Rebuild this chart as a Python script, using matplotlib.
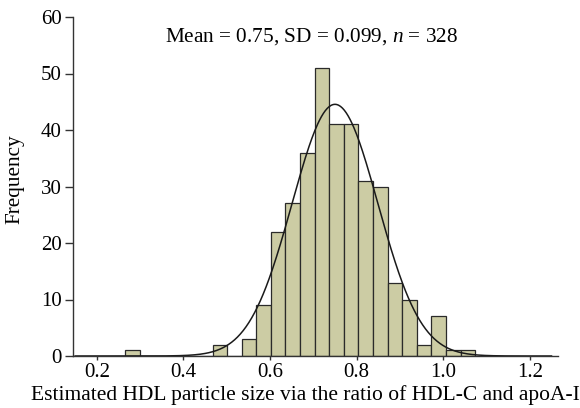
import numpy as np
import matplotlib
matplotlib.use("Agg")
import matplotlib.pyplot as plt

plt.rcParams['font.family'] = ['Liberation Serif', 'DejaVu Serif']
plt.rcParams['mathtext.fontset'] = 'custom'
plt.rcParams['mathtext.it'] = 'Liberation Serif:italic'
plt.rcParams['mathtext.rm'] = 'Liberation Serif'

# Histogram data (bin edges start and width, counts)
bin_start = 0.265
bin_width = 0.0337
counts = [1, 0, 0, 0, 0, 0, 2, 0, 3, 9, 22, 27, 36, 51, 41, 41, 31, 30, 13, 10, 2, 7, 1, 1]
mean_val = 0.75
sd_val = 0.099
n_val = 328
xticks = [0.2, 0.4, 0.6, 0.8, 1.0, 1.2]
yticks = [0, 10, 20, 30, 40, 50, 60]

edges = bin_start + bin_width * np.arange(len(counts) + 1)

fig = plt.figure(figsize=(5.8, 4.08), dpi=100)
ax = fig.add_axes([73/580, 1-356/408, (558-73)/580, (356-17)/408])

ax.bar(edges[:-1], counts, width=bin_width, align='edge',
       color='#cccca4', edgecolor='#2a2a2a', linewidth=0.9)

xs = np.linspace(0.15, 1.25, 500)
ys = n_val * bin_width / (sd_val * np.sqrt(2 * np.pi)) * np.exp(-0.5 * ((xs - mean_val) / sd_val) ** 2)
ax.plot(xs, ys, color='#1a1a1a', linewidth=1.1)

ax.set_xlim(0.145, 1.265)
ax.set_ylim(0, 60)
ax.set_xticks(xticks)
ax.set_xticklabels([f"{v:.1f}" for v in xticks])
ax.set_yticks(yticks)
ax.tick_params(axis='x', length=3, width=1, labelsize=15, pad=2, direction='out', color='#333333')
ax.tick_params(axis='y', length=6, width=1, labelsize=15, pad=2, direction='out', color='#333333')
for s in ['top', 'right']:
    ax.spines[s].set_visible(False)
for s in ['left', 'bottom']:
    ax.spines[s].set_color('#333333')
    ax.spines[s].set_linewidth(1.0)

fig.text(15/580, 1-179/408, 'Frequency', rotation=90, ha='center', va='center', fontsize=15.3)
fig.text(305/580, 1-395/408, 'Estimated HDL particle size via the ratio of HDL-C and apoA-I',
         ha='center', va='center', fontsize=15.5)
fig.text(311.5/580, 1-37/408, f'Mean = {mean_val}, SD = {sd_val}, $\\it{{n}}$ = {n_val}',
         ha='center', va='center', fontsize=15.3)

fig.savefig('out.png', dpi=100)
